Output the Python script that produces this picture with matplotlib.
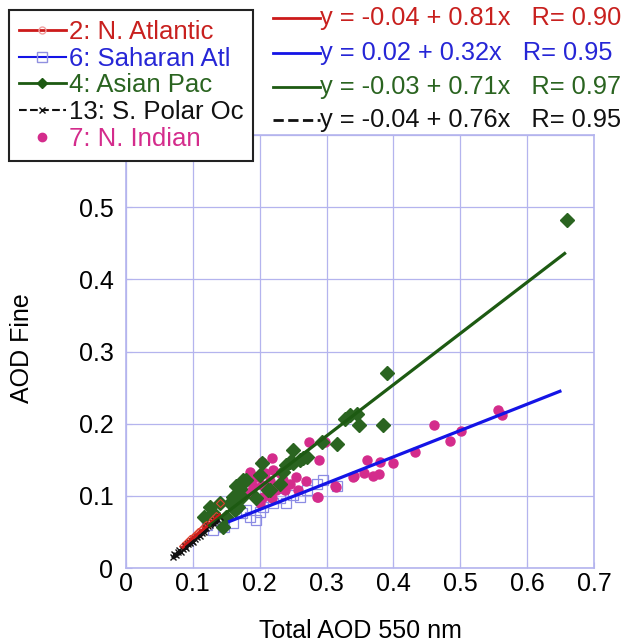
import matplotlib
matplotlib.use("Agg")
import matplotlib.pyplot as plt
from matplotlib.lines import Line2D
import numpy as np

plt.rcParams['font.family'] = ['Liberation Sans', 'DejaVu Sans']

# ---------------- data ----------------
# 2: N. Atlantic (red open diamonds)
natl_x = [0.085, 0.09, 0.093, 0.096, 0.10, 0.102, 0.105, 0.108, 0.11, 0.112,
          0.115, 0.118, 0.12, 0.125, 0.13, 0.135, 0.14]
natl_y = [0.030, 0.034, 0.036, 0.040, 0.042, 0.045, 0.046, 0.050, 0.048, 0.053,
          0.055, 0.058, 0.060, 0.062, 0.068, 0.072, 0.090]

# 6: Saharan Atl (blue open squares)
sah_x = [0.121, 0.130, 0.146, 0.160, 0.173, 0.180, 0.185, 0.195, 0.200, 0.205,
         0.210, 0.220, 0.230, 0.240, 0.250, 0.260, 0.270, 0.285, 0.295, 0.315]
sah_y = [0.060, 0.053, 0.057, 0.062, 0.076, 0.080, 0.071, 0.066, 0.078, 0.085,
         0.094, 0.090, 0.097, 0.090, 0.101, 0.099, 0.108, 0.117, 0.122, 0.113]

# 4: Asian Pac (green filled diamonds)
asia_x = [0.116, 0.126, 0.130, 0.140, 0.145, 0.150, 0.155, 0.160, 0.163, 0.165,
          0.168, 0.170, 0.173, 0.175, 0.180, 0.195, 0.200, 0.203, 0.213, 0.215,
          0.230, 0.235, 0.240, 0.245, 0.250, 0.250, 0.260, 0.264, 0.270, 0.293,
          0.316, 0.327, 0.335, 0.345, 0.349, 0.384, 0.390, 0.659]
asia_y = [0.071, 0.085, 0.076, 0.090, 0.057, 0.071, 0.090, 0.099, 0.080, 0.113,
          0.085, 0.110, 0.099, 0.122, 0.122, 0.097, 0.129, 0.145, 0.108, 0.108,
          0.117, 0.133, 0.143, 0.147, 0.163, 0.145, 0.150, 0.153, 0.154, 0.175,
          0.172, 0.207, 0.212, 0.214, 0.198, 0.198, 0.270, 0.482]

# 13: S. Polar Oc (black x)
spol_x = [0.070, 0.072, 0.075, 0.078, 0.080, 0.082, 0.085, 0.088, 0.090, 0.092,
          0.095, 0.098, 0.100, 0.103, 0.106, 0.110, 0.113, 0.116, 0.120, 0.123,
          0.126, 0.130, 0.133, 0.136, 0.140]
spol_y = [0.015, 0.020, 0.018, 0.022, 0.025, 0.022, 0.027, 0.030, 0.028, 0.033,
          0.035, 0.038, 0.036, 0.040, 0.043, 0.045, 0.048, 0.050, 0.055, 0.058,
          0.060, 0.062, 0.065, 0.068, 0.070]

# 7: N. Indian (magenta dots)
nind_x = [0.185, 0.195, 0.208, 0.220, 0.230, 0.235, 0.190, 0.203, 0.215, 0.225,
          0.185, 0.205, 0.218, 0.200, 0.245, 0.238, 0.218, 0.203, 0.254, 0.269,
          0.258, 0.285, 0.314, 0.340, 0.273, 0.297, 0.289, 0.287, 0.313, 0.341,
          0.356, 0.370, 0.378, 0.360, 0.380, 0.400, 0.432, 0.461, 0.484, 0.501,
          0.556, 0.562]
nind_y = [0.133, 0.126, 0.131, 0.136, 0.131, 0.122, 0.113, 0.115, 0.120, 0.108,
          0.106, 0.099, 0.097, 0.090, 0.117, 0.108, 0.153, 0.147, 0.126, 0.120,
          0.108, 0.099, 0.112, 0.126, 0.175, 0.174, 0.150, 0.099, 0.113, 0.127,
          0.131, 0.128, 0.130, 0.150, 0.147, 0.146, 0.161, 0.198, 0.176, 0.190,
          0.219, 0.212]

# fit lines: intercept, slope, x-range (as drawn)
fit_names = ['N. Atlantic', 'Saharan Atl', 'Asian Pac', 'S. Polar Oc']
fit_a = [-0.04, 0.008, -0.03, -0.04]
fit_b = [0.81, 0.365, 0.71, 0.76]
fit_x0 = [0.085, 0.155, 0.125, 0.07]
fit_x1 = [0.14, 0.649, 0.656, 0.14]
fit_labels = ['y = -0.04 + 0.81x   R= 0.90',
              'y = 0.02 + 0.32x   R= 0.95',
              'y = -0.03 + 0.71x   R= 0.97',
              'y = -0.04 + 0.76x   R= 0.95']

legend_labels = ['2: N. Atlantic', '6: Saharan Atl', '4: Asian Pac',
                 '13: S. Polar Oc', '7: N. Indian']

xticks = [0, 0.1, 0.2, 0.3, 0.4, 0.5, 0.6, 0.7]
xticklabels = ['0', '0.1', '0.2', '0.3', '0.4', '0.5', '0.6', '0.7']
yticks = [0, 0.1, 0.2, 0.3, 0.4, 0.5, 0.6]
yticklabels = ['0', '0.1', '0.2', '0.3', '0.4', '0.5', '']  # 0.6 hidden under the legend

# ---------------- styles ----------------
RED = '#c8201e'
BLUE = '#2626d6'
GREEN = '#2a6420'
BLACK = '#111111'
MAG = '#d42c8c'
GRID = '#b4b4ee'
FS = 18

line_colors = ['#cc1a1a', '#1414e6', '#1d5a12', BLACK]
line_styles = ['-', '-', '-', '--']
text_colors = [RED, BLUE, GREEN, BLACK]

fig = plt.figure(figsize=(6.33, 6.44), dpi=100)
ax = fig.add_axes([126/633, 1-568/644, (594-126)/633, (568-135)/644])

ax.plot(sah_x, sah_y, ls='none', marker='s', ms=7.5, mfc='none', mec='#8c8ce4', mew=0.9, zorder=3)
ax.plot(nind_x, nind_y, ls='none', marker='o', ms=6.5, mfc=MAG, mec=MAG, zorder=4)
ax.plot(asia_x, asia_y, ls='none', marker='D', ms=7, mfc=GREEN, mec=GREEN, zorder=5)
ax.plot(natl_x, natl_y, ls='none', marker='D', ms=4.5, mfc='none', mec='#e04030', mew=0.8, zorder=6)
ax.plot(spol_x, spol_y, ls='none', marker='x', ms=5, mec=BLACK, mew=1.0, zorder=7)

for a, b, x0, x1, c, s in zip(fit_a, fit_b, fit_x0, fit_x1, line_colors, line_styles):
    xs = np.array([x0, x1])
    ax.plot(xs, a + b * xs, color=c, ls=s, lw=2.3, zorder=8)

ax.set_xlim(0, 0.7)
ax.set_ylim(0, 0.6)
ax.set_xticks(xticks)
ax.set_xticklabels(xticklabels)
ax.set_yticks(yticks)
ax.set_yticklabels(yticklabels)
ax.tick_params(direction='in', length=4, color=GRID, labelsize=FS)
ax.tick_params(axis='x', pad=3)
ax.tick_params(axis='y', pad=9)
ax.grid(True, color=GRID, lw=0.9)
ax.set_axisbelow(True)
for sp in ax.spines.values():
    sp.set_color(GRID)
    sp.set_linewidth(1.2)
ax.set_xlabel('Total AOD 550 nm', fontsize=FS)
ax.set_ylabel('AOD Fine', fontsize=FS)
ax.xaxis.set_label_coords(0.5, (568 - 631) / 433)
ax.xaxis.label.set_va('center')
ax.yaxis.set_label_coords((22 - 126) / 468, (568 - 348) / 433)
ax.yaxis.label.set_va('center')

# left legend
handles = [
    Line2D([], [], color='#cc1a1a', lw=2, marker='o', ms=5, mfc='none', mec='#f0a0a0'),
    Line2D([], [], color='#1414e6', lw=1.5, marker='s', ms=7, mfc='none', mec='#9090e0'),
    Line2D([], [], color='#1d5a12', lw=2, marker='D', ms=5, mfc='#1d5a12', mec='#1d5a12'),
    Line2D([], [], color=BLACK, lw=1.5, ls='--', marker='x', ms=5),
    Line2D([], [], color=MAG, ls='none', marker='o', ms=6, mfc=MAG, mec=MAG),
]
leg = fig.legend(handles, legend_labels, loc='upper left',
                 bbox_to_anchor=(9/633, 1-10/644), bbox_transform=fig.transFigure,
                 fontsize=18.5, handlelength=1.8, handletextpad=0.12, labelspacing=0.1,
                 borderpad=0.4, borderaxespad=0, fancybox=False, framealpha=1,
                 edgecolor='#222222', labelcolor=[RED, BLUE, GREEN, BLACK, MAG])
leg.get_frame().set_linewidth(1.5)
leg.set_zorder(20)

# right equation block
row_y = [18, 53, 87, 120]
for yy, lab, lc, ls, tc in zip(row_y, fit_labels, line_colors, line_styles, text_colors):
    fy = 1 - yy / 644
    fig.add_artist(Line2D([273/633, 320/633], [fy, fy], color=lc, ls=ls, lw=2,
                          transform=fig.transFigure))
    fig.text(320/633, fy, lab, color=tc, fontsize=18.3, va='center', ha='left')

fig.savefig('out.png', dpi=100)
